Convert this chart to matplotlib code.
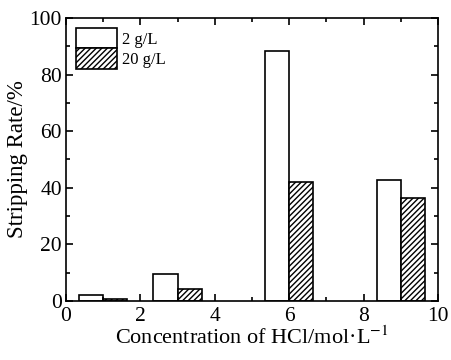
import matplotlib
matplotlib.use("Agg")
import matplotlib.pyplot as plt
import numpy as np
from matplotlib.ticker import MultipleLocator

plt.rcParams['font.family'] = ['Liberation Serif', 'DejaVu Serif']
plt.rcParams['hatch.linewidth'] = 1.0
plt.rcParams['mathtext.fontset'] = 'stix'

concentration = [1, 3, 6, 9]
rate_2gL = [2.0, 9.6, 88.4, 42.6]
rate_20gL = [0.8, 4.3, 42.0, 36.5]
labels = ['2 g/L', '20 g/L']

fig = plt.figure(figsize=(4.52, 3.6), dpi=100)
ax = fig.add_axes([0.146, 0.164, 0.823, 0.786])

w = 0.65
x = np.array(concentration, dtype=float)
ax.bar(x - w/2, rate_2gL, width=w, facecolor='white', edgecolor='black', linewidth=1.2, label=labels[0])
ax.bar(x + w/2, rate_20gL, width=w, facecolor='white', edgecolor='black', linewidth=1.2, hatch='//////', label=labels[1])

ax.set_xlim(0, 10)
ax.set_ylim(0, 100)
ax.xaxis.set_major_locator(MultipleLocator(2))
ax.xaxis.set_minor_locator(MultipleLocator(1))
ax.yaxis.set_major_locator(MultipleLocator(20))
ax.yaxis.set_minor_locator(MultipleLocator(10))
ax.tick_params(which='both', direction='in', top=True, right=True, width=1.2, labelsize=15.5)
ax.tick_params(which='major', length=5)
ax.tick_params(which='minor', length=3)
ax.tick_params(axis='x', which='major', pad=4)
ax.tick_params(axis='y', which='major', pad=3)
for s in ax.spines.values():
    s.set_linewidth(1.2)

ax.set_xlabel('Concentration of HCl/mol·L$^{-1}$', fontsize=16, labelpad=1)
ax.set_ylabel('Stripping Rate/%', fontsize=16.5, labelpad=1)

ax.legend(loc='upper left', frameon=False, fontsize=12, handlelength=2.45, handleheight=1.5,
          labelspacing=0.0, handletextpad=0.3, borderaxespad=0.25, borderpad=0.35)

fig.savefig('out.png', dpi=100)
